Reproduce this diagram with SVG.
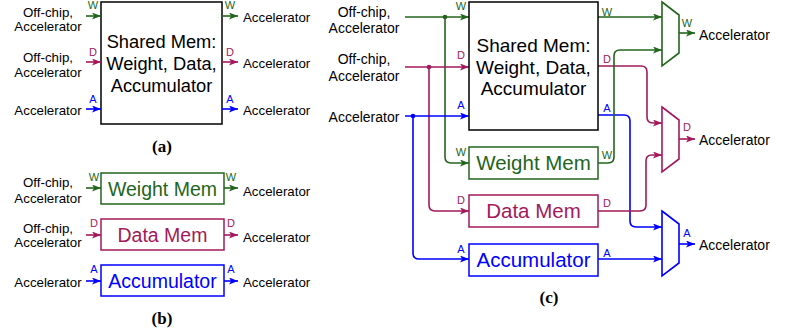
<svg xmlns="http://www.w3.org/2000/svg" width="785" height="332" viewBox="0 0 785 332">
<style>
text{font-family:"Liberation Sans",Arial,sans-serif;}
.lbl{font-size:13.3px;fill:#000;}
.lblc{font-size:14px;fill:#000;}
.mid{text-anchor:middle;}
.tag{font-size:11px;text-anchor:middle;}
.cap{font-family:"Liberation Serif","Times New Roman",serif;font-weight:bold;font-size:17px;text-anchor:middle;fill:#000;}
.g{stroke:#23651c;}
.d{stroke:#a3195b;}
.a{stroke:#0000ff;}
.gt{fill:#23651c;}
.dt{fill:#a3195b;}
.at{fill:#0000ff;}
.ln{fill:none;stroke-width:1.6;}
.box{fill:#fff;stroke-width:1.5;}
.mux{fill:#fff;stroke-width:1.6;}
.big{font-size:18.3px;text-anchor:middle;}
.mem{font-size:19.5px;text-anchor:middle;}
.memc{font-size:20.5px;text-anchor:middle;}
.bigc{font-size:19px;text-anchor:middle;}
</style>
<defs>
<marker id="mg" markerUnits="userSpaceOnUse" markerWidth="9" markerHeight="8" refX="9" refY="3.5" orient="auto"><path d="M0,0 L9,3.5 L0,7 L2.2,3.5 z" fill="#23651c"/></marker>
<marker id="md" markerUnits="userSpaceOnUse" markerWidth="9" markerHeight="8" refX="9" refY="3.5" orient="auto"><path d="M0,0 L9,3.5 L0,7 L2.2,3.5 z" fill="#a3195b"/></marker>
<marker id="ma" markerUnits="userSpaceOnUse" markerWidth="9" markerHeight="8" refX="9" refY="3.5" orient="auto"><path d="M0,0 L9,3.5 L0,7 L2.2,3.5 z" fill="#0000ff"/></marker>
</defs>

<!-- Panel (a) -->
<g id="a-shared">
<rect x="101" y="2" width="121" height="122" class="box" stroke="#000"/>
<text x="161.5" y="48" class="big">Shared Mem:</text>
<text x="161.5" y="70" class="big">Weight, Data,</text>
<text x="161.5" y="92" class="big">Accumulator</text>
</g>
<g id="a-labels">
<text x="48" y="17" class="lbl mid">Off-chip,</text>
<text x="48" y="31" class="lbl mid">Accelerator</text>
<text x="48" y="62" class="lbl mid">Off-chip,</text>
<text x="48" y="77" class="lbl mid">Accelerator</text>
<text x="48" y="115" class="lbl mid">Accelerator</text>
<text x="243" y="22" class="lbl">Accelerator</text>
<text x="243" y="68" class="lbl">Accelerator</text>
<text x="243" y="115" class="lbl">Accelerator</text>
<text x="162" y="152" class="cap">(a)</text>
</g>
<g id="a-connectors">
<path d="M86,16 H101" class="ln g" marker-end="url(#mg)"/>
<path d="M86,62 H101" class="ln d" marker-end="url(#md)"/>
<path d="M86,109 H101" class="ln a" marker-end="url(#ma)"/>
<path d="M222,16 H238" class="ln g" marker-end="url(#mg)"/>
<path d="M222,62 H238" class="ln d" marker-end="url(#md)"/>
<path d="M222,109 H238" class="ln a" marker-end="url(#ma)"/>
<text x="93" y="9" class="tag gt">W</text>
<text x="93" y="56" class="tag dt">D</text>
<text x="93" y="103" class="tag at">A</text>
<text x="230" y="9" class="tag gt">W</text>
<text x="230" y="56" class="tag dt">D</text>
<text x="230" y="103" class="tag at">A</text>
</g>

<!-- Panel (b) -->
<g id="b-weight">
<rect x="101" y="173" width="123" height="31" class="box g"/>
<text x="162.5" y="196" class="mem gt">Weight Mem</text>
</g>
<g id="b-data">
<rect x="101" y="219" width="123" height="31" class="box d"/>
<text x="162.5" y="242" class="mem dt">Data Mem</text>
</g>
<g id="b-acc">
<rect x="101" y="265" width="123" height="31" class="box a"/>
<text x="162.5" y="288" class="mem at">Accumulator</text>
</g>
<g id="b-labels">
<text x="48" y="187" class="lbl mid">Off-chip,</text>
<text x="48" y="203" class="lbl mid">Accelerator</text>
<text x="48" y="233" class="lbl mid">Off-chip,</text>
<text x="48" y="247" class="lbl mid">Accelerator</text>
<text x="48" y="287" class="lbl mid">Accelerator</text>
<text x="243" y="196" class="lbl">Accelerator</text>
<text x="243" y="242" class="lbl">Accelerator</text>
<text x="243" y="287" class="lbl">Accelerator</text>
<text x="162" y="324" class="cap">(b)</text>
</g>
<g id="b-connectors">
<path d="M86,188 H101" class="ln g" marker-end="url(#mg)"/>
<path d="M86,235 H101" class="ln d" marker-end="url(#md)"/>
<path d="M86,281 H101" class="ln a" marker-end="url(#ma)"/>
<path d="M224,188 H238" class="ln g" marker-end="url(#mg)"/>
<path d="M224,235 H238" class="ln d" marker-end="url(#md)"/>
<path d="M224,281 H238" class="ln a" marker-end="url(#ma)"/>
<text x="94" y="181" class="tag gt">W</text>
<text x="94" y="227" class="tag dt">D</text>
<text x="94" y="273" class="tag at">A</text>
<text x="231" y="181" class="tag gt">W</text>
<text x="231" y="227" class="tag dt">D</text>
<text x="231" y="273" class="tag at">A</text>
</g>

<!-- Panel (c) -->
<g id="c-labels">
<text x="364" y="17" class="lblc mid">Off-chip,</text>
<text x="364" y="33" class="lblc mid">Accelerator</text>
<text x="364" y="64" class="lblc mid">Off-chip,</text>
<text x="364" y="81" class="lblc mid">Accelerator</text>
<text x="364" y="122" class="lblc mid">Accelerator</text>
<text x="699" y="40" class="lblc">Accelerator</text>
<text x="699" y="145" class="lblc">Accelerator</text>
<text x="699" y="250" class="lblc">Accelerator</text>
<text x="549" y="303" class="cap">(c)</text>
</g>
<g id="c-connectors">
<path d="M405,17 H469" class="ln g" marker-end="url(#mg)"/>
<path d="M445,17 V157 Q445,163 451,163 H469" class="ln g" marker-end="url(#mg)"/>
<path d="M405,67 H469" class="ln d" marker-end="url(#md)"/>
<path d="M429,67 V205 Q429,211 435,211 H469" class="ln d" marker-end="url(#md)"/>
<path d="M405,116 H469" class="ln a" marker-end="url(#ma)"/>
<path d="M413,116 V253 Q413,259 419,259 H469" class="ln a" marker-end="url(#ma)"/>
<circle cx="445" cy="17" r="2.3" fill="#23651c"/>
<circle cx="429" cy="67" r="2.3" fill="#a3195b"/>
<circle cx="413" cy="116" r="2.3" fill="#0000ff"/>
<path d="M598,115 H624 Q630,115 630,121 V221 Q630,227 636,227 H662" class="ln a" marker-end="url(#ma)"/>
<path d="M598,259 H662" class="ln a" marker-end="url(#ma)"/>
<path d="M598,66 H641 Q647,66 647,72 V117 Q647,123 653,123 H662" class="ln d" marker-end="url(#md)"/>
<path d="M598,211 H640 Q646,211 646,205 V161 Q646,155 652,155 H662" class="ln d" marker-end="url(#md)"/>
<path d="M598,17 H662" class="ln g" marker-end="url(#mg)"/>
<path d="M598,163 H608 Q614,163 614,157 V56 Q614,50 620,50 H662" class="ln g" marker-end="url(#mg)"/>
<path d="M679,33 H695" class="ln g" marker-end="url(#mg)"/>
<path d="M679,139 H695" class="ln d" marker-end="url(#md)"/>
<path d="M679,244 H695" class="ln a" marker-end="url(#ma)"/>
<text x="461" y="10" class="tag gt">W</text>
<text x="461" y="59" class="tag dt">D</text>
<text x="461" y="109" class="tag at">A</text>
<text x="461" y="156" class="tag gt">W</text>
<text x="461" y="204" class="tag dt">D</text>
<text x="461" y="253" class="tag at">A</text>
<text x="607" y="16" class="tag gt">W</text>
<text x="607" y="63" class="tag dt">D</text>
<text x="607" y="112" class="tag at">A</text>
<text x="607" y="159" class="tag gt">W</text>
<text x="607" y="207" class="tag dt">D</text>
<text x="607" y="257" class="tag at">A</text>
<text x="687" y="27" class="tag gt">W</text>
<text x="687" y="131" class="tag dt">D</text>
<text x="687" y="237" class="tag at">A</text>
</g>
<g id="c-shared">
<rect x="469" y="2" width="129" height="128" class="box" stroke="#000"/>
<text x="533.5" y="52" class="bigc">Shared Mem:</text>
<text x="533.5" y="74" class="bigc">Weight, Data,</text>
<text x="533.5" y="95" class="bigc">Accumulator</text>
</g>
<g id="c-weight">
<rect x="469" y="147" width="129" height="32" class="box g"/>
<text x="533.5" y="170" class="memc gt">Weight Mem</text>
</g>
<g id="c-data">
<rect x="469" y="195" width="129" height="32" class="box d"/>
<text x="533.5" y="218" class="memc dt">Data Mem</text>
</g>
<g id="c-acc">
<rect x="469" y="244" width="129" height="32" class="box a"/>
<text x="533.5" y="267" class="memc at">Accumulator</text>
</g>
<g id="c-mux-w">
<polygon points="662,2 679,15 679,53 662,66" class="mux g"/>
</g>
<g id="c-mux-d">
<polygon points="662,107 679,120 679,159 662,172" class="mux d"/>
</g>
<g id="c-mux-a">
<polygon points="662,211 679,224 679,263 662,276" class="mux a"/>
</g>
</svg>
